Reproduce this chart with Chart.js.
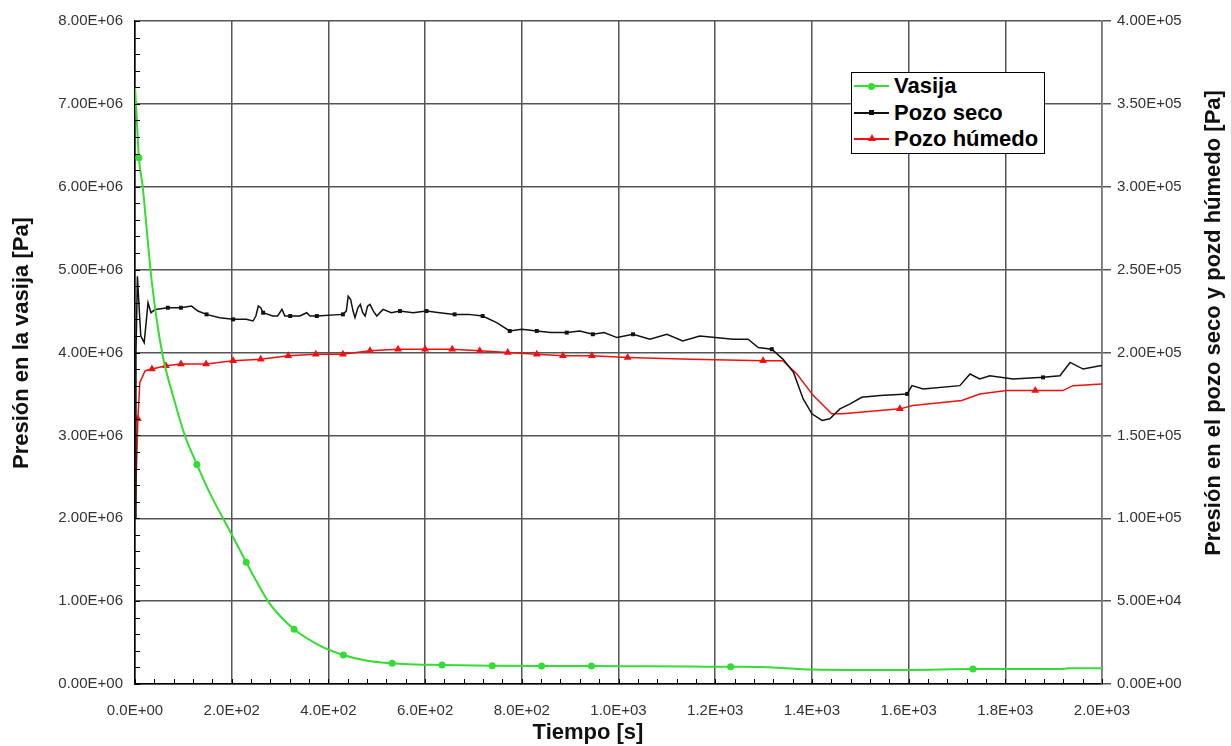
<!DOCTYPE html>
<html lang="es">
<head>
    <meta charset="UTF-8">
    <title>Presión en la vasija y en los pozos</title>
    <script src="https://cdn.jsdelivr.net/npm/chart.js"></script>
    <style>
        body {
            margin: 0;
            background: #fff;
            font-family: "Liberation Sans", Arial, sans-serif;
        }
        #wrap {
            position: relative;
            width: 1231px;
            height: 746px;
        }
        #leyenda {
            position: absolute;
            left: 851px;
            top: 72px;
            width: 192px;
            height: 80px;
            border: 1px solid #000;
            background: #fff;
            font-weight: bold;
            font-size: 22px;
            color: #000;
        }
        .fila {
            display: flex;
            align-items: center;
            height: 26.6px;
        }
        .muestra {
            position: relative;
            width: 35px;
            height: 2px;
            margin: 0 5px 0 2px;
        }
        .muestra i {
            position: absolute;
            left: 50%;
            top: 50%;
        }
    </style>
</head>
<body>
<div id="wrap">
    <canvas id="grafico" width="1231" height="746"></canvas>
    <div id="leyenda">
        <div class="fila"><span class="muestra" style="background:#33dd33"><i style="width:7px;height:7px;margin:-3.5px 0 0 -3.5px;border-radius:50%;background:#33dd33"></i></span>Vasija</div>
        <div class="fila"><span class="muestra" style="background:#111"><i style="width:5px;height:5px;margin:-2.5px 0 0 -2.5px;background:#111"></i></span>Pozo seco</div>
        <div class="fila"><span class="muestra" style="background:#f01010"><i style="width:0;height:0;margin:-5px 0 0 -4px;border-left:4px solid transparent;border-right:4px solid transparent;border-bottom:7px solid #f01010"></i></span>Pozo húmedo</div>
    </div>
</div>
<script>
    // Vasija (eje izquierdo, Pa)
    const tVasija = [0, 3, 8, 16, 24, 35, 56, 80, 103, 128, 155, 182, 205, 230, 255, 275, 300, 329, 380, 431,
        480, 532, 580, 635, 739, 841, 944, 1050, 1150, 1232, 1320, 1400, 1500, 1600, 1733, 1850, 1915, 1930, 2000];
    const pVasija = [7.2e6, 6.9e6, 6.35e6, 6.0e6, 5.5e6, 4.84e6, 4.0e6, 3.45e6, 3.0e6, 2.65e6, 2.3e6, 2.0e6, 1.75e6,
        1.47e6, 1.2e6, 1.0e6, 0.82e6, 0.66e6, 0.47e6, 0.35e6, 0.28e6, 0.25e6, 0.235e6, 0.23e6, 0.22e6, 0.216e6,
        0.216e6, 0.213e6, 0.21e6, 0.208e6, 0.2e6, 0.175e6, 0.17e6, 0.17e6, 0.18e6, 0.18e6, 0.18e6, 0.19e6, 0.19e6];
    const mkVasija = [8, 128, 230, 329, 431, 532, 635, 739, 841, 944, 1232, 1733];

    // Pozo seco (eje derecho, Pa)
    const tSeco = [0, 2, 5, 8, 12, 19, 27, 33, 42, 68, 95, 117, 130, 148, 175, 203, 230, 244, 250, 255, 260, 265,
        285, 295, 304, 310, 321, 341, 355, 362, 376, 430, 437, 441, 446, 451, 455, 461, 466, 471, 476, 481, 486,
        493, 500, 513, 530, 548, 575, 603, 630, 661, 690, 719, 748, 775, 800, 831, 860, 893, 920, 947, 970, 997,
        1030, 1065, 1100, 1133, 1168, 1200, 1237, 1268, 1289, 1317, 1340, 1362, 1382, 1400, 1421, 1437, 1458,
        1479, 1503, 1541, 1597, 1607, 1630, 1706, 1727, 1747, 1768, 1816, 1878, 1913, 1934, 1961, 1996, 2000];
    const pSeco = [1.0e5, 2.0e5, 2.46e5, 2.3e5, 2.1e5, 2.06e5, 2.3e5, 2.24e5, 2.26e5, 2.27e5, 2.27e5, 2.28e5,
        2.25e5, 2.23e5, 2.21e5, 2.2e5, 2.2e5, 2.19e5, 2.22e5, 2.28e5, 2.27e5, 2.24e5, 2.22e5, 2.22e5, 2.26e5,
        2.22e5, 2.22e5, 2.22e5, 2.24e5, 2.22e5, 2.22e5, 2.23e5, 2.25e5, 2.34e5, 2.32e5, 2.25e5, 2.21e5, 2.27e5,
        2.29e5, 2.24e5, 2.22e5, 2.28e5, 2.29e5, 2.25e5, 2.22e5, 2.26e5, 2.24e5, 2.25e5, 2.24e5, 2.25e5, 2.24e5,
        2.23e5, 2.23e5, 2.22e5, 2.18e5, 2.13e5, 2.14e5, 2.13e5, 2.12e5, 2.12e5, 2.13e5, 2.11e5, 2.12e5, 2.09e5,
        2.11e5, 2.08e5, 2.11e5, 2.07e5, 2.1e5, 2.09e5, 2.08e5, 2.08e5, 2.03e5, 2.02e5, 1.96e5, 1.88e5, 1.72e5,
        1.63e5, 1.59e5, 1.6e5, 1.66e5, 1.69e5, 1.73e5, 1.74e5, 1.75e5, 1.8e5, 1.78e5, 1.8e5, 1.87e5, 1.84e5,
        1.86e5, 1.84e5, 1.85e5, 1.86e5, 1.94e5, 1.9e5, 1.92e5, 1.92e5];
    const mkSeco = [68, 95, 148, 203, 265, 321, 376, 430, 548, 603, 661, 719, 775, 831, 893, 947, 1030, 1317, 1597, 1878];

    // Pozo húmedo (eje derecho, Pa)
    const tHumedo = [0, 3, 6, 10, 21, 35, 64, 95, 147, 203, 260, 317, 374, 430, 486, 544, 600, 656, 713, 771, 831,
        885, 945, 1019, 1150, 1299, 1340, 1369, 1403, 1441, 1464, 1582, 1609, 1710, 1747, 1803, 1862, 1919, 1940, 2000];
    const pHumedo = [1.0e5, 1.3e5, 1.6e5, 1.82e5, 1.89e5, 1.9e5, 1.92e5, 1.93e5, 1.93e5, 1.95e5, 1.96e5, 1.98e5,
        1.99e5, 1.99e5, 2.01e5, 2.02e5, 2.02e5, 2.02e5, 2.01e5, 2.0e5, 1.99e5, 1.98e5, 1.98e5, 1.97e5, 1.96e5,
        1.95e5, 1.95e5, 1.87e5, 1.74e5, 1.63e5, 1.63e5, 1.66e5, 1.68e5, 1.71e5, 1.75e5, 1.77e5, 1.77e5, 1.77e5,
        1.8e5, 1.81e5];
    const mkHumedo = [6, 35, 64, 95, 147, 203, 260, 317, 374, 430, 486, 544, 600, 656, 713, 771, 831, 885, 945,
        1019, 1299, 1582, 1862];

    // formato tipo Excel: 2.0E+02
    function sci(v, dec) {
        if (v === 0) return (0).toFixed(dec) + 'E+00';
        let e = Math.floor(Math.log10(Math.abs(v)) + 1e-9);
        let m = (v / Math.pow(10, e)).toFixed(dec);
        return m + 'E' + (e < 0 ? '-' : '+') + String(Math.abs(e)).padStart(2, '0');
    }

    function puntos(ts, vs) {
        return ts.map((t, i) => ({ x: t, y: vs[i] }));
    }

    // marcas pequeñas en los ejes
    const marcasMenores = {
        id: 'marcasMenores',
        afterDraw(chart) {
            const { ctx, chartArea: a, scales } = chart;
            ctx.save();
            ctx.strokeStyle = '#000';
            ctx.lineWidth = 1;
            ctx.beginPath();
            for (let v = 0; v <= 8e6; v += 2e5) {
                const py = Math.round(scales.y.getPixelForValue(v)) + 0.5;
                ctx.moveTo(a.left, py);
                ctx.lineTo(a.left + 5, py);
            }
            for (let t = 0; t <= 2000; t += 40) {
                const px = Math.round(scales.x.getPixelForValue(t)) + 0.5;
                ctx.moveTo(px, a.bottom);
                ctx.lineTo(px, a.bottom - 5);
            }
            ctx.stroke();
            ctx.restore();
        }
    };

    // títulos de los ejes (el derecho se lee de abajo hacia arriba, como en el original)
    const titulos = {
        id: 'titulos',
        afterDraw(chart) {
            const ctx = chart.ctx;
            ctx.save();
            ctx.fillStyle = '#111';
            ctx.font = 'bold 22px "Liberation Sans", Arial, sans-serif';
            ctx.textAlign = 'center';
            ctx.textBaseline = 'alphabetic';
            ctx.fillText('Tiempo [s]', 588, 739);
            ctx.translate(28, 343);
            ctx.rotate(-Math.PI / 2);
            ctx.fillText('Presión en la vasija [Pa]', 0, 0);
            ctx.restore();
            ctx.save();
            ctx.fillStyle = '#111';
            ctx.font = 'bold 22px "Liberation Sans", Arial, sans-serif';
            ctx.textAlign = 'center';
            ctx.translate(1220, 323);
            ctx.rotate(-Math.PI / 2);
            ctx.fillText('Presión en el pozo seco y pozd húmedo [Pa]', 0, 0);
            ctx.restore();
        }
    };

    const fuenteTicks = { family: 'Liberation Sans, Arial, sans-serif', size: 15 };

    function radio(lista, r) {
        return c => (c.raw && lista.includes(c.raw.x)) ? r : 0;
    }

    new Chart(document.getElementById('grafico'), {
        type: 'line',
        data: {
            datasets: [{
                label: 'Vasija',
                data: puntos(tVasija, pVasija),
                yAxisID: 'y',
                borderColor: '#33dd33',
                backgroundColor: '#33dd33',
                borderWidth: 2,
                cubicInterpolationMode: 'monotone',
                pointStyle: 'circle',
                pointRadius: radio(mkVasija, 3.5),
                pointBorderWidth: 0
            }, {
                label: 'Pozo seco',
                data: puntos(tSeco, pSeco),
                yAxisID: 'y2',
                borderColor: '#111',
                backgroundColor: '#111',
                borderWidth: 1.5,
                tension: 0,
                pointStyle: 'rect',
                pointRadius: radio(mkSeco, 2.8),
                pointBorderWidth: 0
            }, {
                label: 'Pozo húmedo',
                data: puntos(tHumedo, pHumedo),
                yAxisID: 'y2',
                borderColor: '#f01010',
                backgroundColor: '#f01010',
                borderWidth: 1.5,
                tension: 0,
                pointStyle: 'triangle',
                pointRadius: radio(mkHumedo, 4.5),
                pointBorderWidth: 0
            }]
        },
        options: {
            responsive: false,
            animation: false,
            layout: { padding: { top: 16, left: 0, right: 0, bottom: 0 } },
            plugins: {
                legend: { display: false },
                tooltip: { enabled: false }
            },
            scales: {
                x: {
                    type: 'linear',
                    min: 0,
                    max: 2000,
                    afterFit: s => { s.height = 62; },
                    ticks: { stepSize: 200, font: fuenteTicks, color: '#333', padding: 18, maxRotation: 0,
                        callback: v => sci(v, 1) },
                    grid: { color: '#555', lineWidth: 1.5, drawTicks: false },
                    border: { color: '#000', width: 1.5 }
                },
                y: {
                    position: 'left',
                    min: 0,
                    max: 8e6,
                    afterFit: s => { s.width = 135; },
                    ticks: { stepSize: 1e6, font: fuenteTicks, color: '#333', padding: 12,
                        callback: v => sci(v, 2) },
                    grid: { color: '#555', lineWidth: 1.5, drawTicks: false },
                    border: { color: '#000', width: 1.5 }
                },
                y2: {
                    position: 'right',
                    min: 0,
                    max: 4e5,
                    afterFit: s => { s.width = 129; },
                    ticks: { stepSize: 5e4, font: fuenteTicks, color: '#333', padding: 6,
                        callback: v => sci(v, 2) },
                    grid: { drawOnChartArea: false, drawTicks: true, tickLength: 9, color: '#555', lineWidth: 1.5 },
                    border: { color: '#777', width: 1.5 }
                }
            }
        },
        plugins: [marcasMenores, titulos]
    });
</script>
</body>
</html>
